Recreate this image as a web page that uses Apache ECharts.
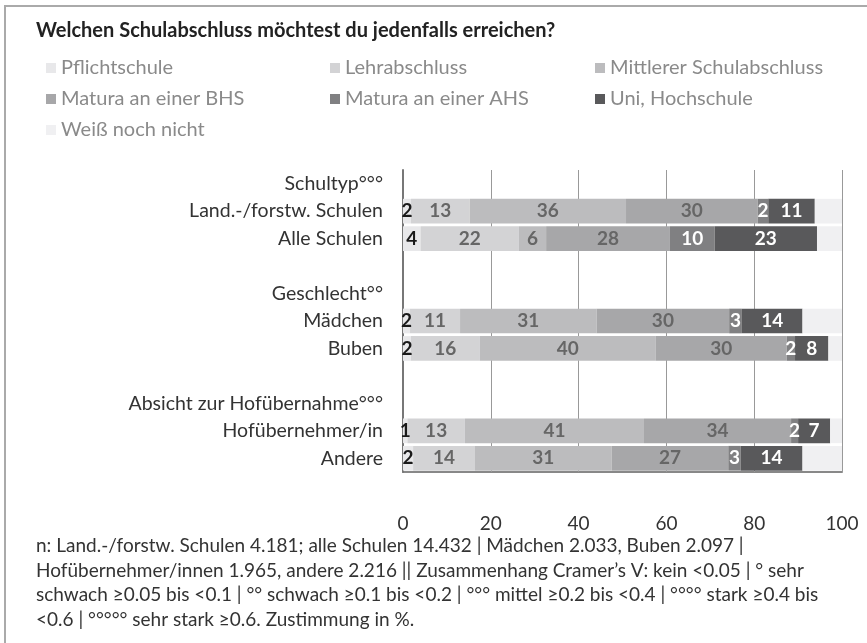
<!DOCTYPE html>
<html>
<head>
<meta charset="utf-8">
<script src="https://cdn.jsdelivr.net/npm/echarts@6/dist/echarts.min.js"></script>
<style>
  html, body { margin: 0; padding: 0; background: #fff; }
  #chart { width: 867px; height: 643px; }
</style>
</head>
<body>
<div id="chart"></div>
<script>
const categories = [
  "Schultyp°°°", "Land.-/forstw. Schulen", "Alle Schulen", " ",
  "Geschlecht°°", "Mädchen", "Buben", "  ",
  "Absicht zur Hofübernahme°°°", "Hofübernehmer/in", "Andere"
];
// header / spacer rows carry no bars
const pflichtschule = ["-", 1.8, 4.0, "-", "-", 1.6, 1.8, "-", "-", 1.0, 2.3];
const lehrabschluss = ["-", 13.4, 22.4, "-", "-", 11.4, 15.7, "-", "-", 13.1, 14.1];
const mittlerer = ["-", 35.6, 6.2, "-", "-", 31.1, 40.1, "-", "-", 40.8, 31.1];
const maturaBHS = ["-", 30.0, 28.2, "-", "-", 30.2, 29.8, "-", "-", 33.5, 26.6];
const maturaAHS = ["-", 2.4, 10.2, "-", "-", 2.9, 1.9, "-", "-", 1.6, 2.8];
const uni = ["-", 10.6, 23.3, "-", "-", 13.8, 7.6, "-", "-", 7.3, 14.1];
const weissNicht = ["-", 6.2, 5.7, "-", "-", 9.0, 3.1, "-", "-", 2.7, 9.0];
const xTicks = [0, 20, 40, 60, 80, 100];

const footnote = [
  "n: Land.-/forstw. Schulen 4.181; alle Schulen 14.432 | Mädchen 2.033, Buben 2.097 |",
  "Hofübernehmer/innen 1.965, andere 2.216 || Zusammenhang Cramer’s V: kein <0.05 | ° sehr",
  "schwach ≥0.05 bis <0.1 | °° schwach ≥0.1 bis <0.2 | °°° mittel ≥0.2 bis <0.4 | °°°° stark ≥0.4 bis",
  "<0.6 | °°°°° sehr stark ≥0.6. Zustimmung in %."
];

const FONT = "Lato";

function seg(name, data, color, labelColor, showLabel) {
  return {
    name, type: "bar", stack: "total", data, z: 3,
    barCategoryGap: "10%",
    itemStyle: { color },
    label: {
      show: showLabel,
      position: "inside",
      color: labelColor,
      fontFamily: FONT,
      fontWeight: "bold",
      fontSize: 19,
      formatter: (p) => Math.round(p.value)
    },
    emphasis: { disabled: true }
  };
}

const chart = echarts.init(document.getElementById("chart"));
const legendText = { color: "#8a8a8a", fontFamily: FONT, fontSize: 20, lineHeight: 20 };
const legendBase = {
  orient: "vertical", itemWidth: 10, itemHeight: 10, itemGap: 11,
  icon: "rect", textStyle: legendText, selectedMode: false, padding: 0
};

chart.setOption({
  animation: false,
  title: {
    text: "Welchen Schulabschluss möchtest du jedenfalls erreichen?",
    left: 36, top: 21, padding: 0,
    textStyle: { fontFamily: FONT, fontWeight: "bold", fontSize: 20, color: "#222" }
  },
  legend: [
    Object.assign({}, legendBase, { left: 46, top: 58, data: ["Pflichtschule", "Matura an einer BHS", "Weiß noch nicht"] }),
    Object.assign({}, legendBase, { left: 330, top: 58, data: ["Lehrabschluss", "Matura an einer AHS"] }),
    Object.assign({}, legendBase, { left: 595, top: 58, data: ["Mittlerer Schulabschluss", "Uni, Hochschule"] })
  ],
  grid: { left: 403, top: 170, width: 439, height: 302, containLabel: false },
  xAxis: {
    type: "value",
    min: xTicks[0], max: xTicks[xTicks.length - 1], interval: xTicks[1] - xTicks[0],
    axisLine: { show: true, lineStyle: { color: "#888", width: 2 } },
    axisTick: { show: false },
    axisLabel: { margin: 42, color: "#333", fontFamily: FONT, fontSize: 19 },
    splitLine: { show: true, lineStyle: { color: "#999", width: 1 } }
  },
  yAxis: {
    type: "category", data: categories, inverse: true, z: 2,
    axisLine: { show: true, lineStyle: { color: "#777", width: 2 } },
    axisTick: { show: false },
    axisLabel: { margin: 20, color: "#333", fontFamily: FONT, fontSize: 19.5 }
  },
  series: [
    {
      // vertical gridlines at the tick values, kept under the bars
      type: "line", data: [], z: 1, silent: true,
      markLine: {
        z: 1, symbol: "none", silent: true, label: { show: false },
        lineStyle: { color: "#999", width: 1, type: "solid" },
        data: xTicks.slice(1).map((v) => ({ xAxis: v }))
      }
    },
    seg("Pflichtschule", pflichtschule, "#e8e8ea", "#1a1a1a", true),
    seg("Lehrabschluss", lehrabschluss, "#d3d3d5", "#666", true),
    seg("Mittlerer Schulabschluss", mittlerer, "#bcbcbe", "#666", true),
    seg("Matura an einer BHS", maturaBHS, "#a7a7a9", "#666", true),
    seg("Matura an einer AHS", maturaAHS, "#808082", "#fff", true),
    seg("Uni, Hochschule", uni, "#59595b", "#fff", true),
    seg("Weiß noch nicht", weissNicht, "#f0f0f2", "#999", false)
  ],
  graphic: [
    {
      type: "polyline", silent: true,
      shape: { points: [[5, 643], [5, 6], [867, 6]] },
      style: { stroke: "#aaa", lineWidth: 2, fill: null }
    },
    {
      type: "text", left: 36, top: 534, silent: true,
      style: {
        text: footnote.join("\n"),
        fontFamily: FONT, fontSize: 19, lineHeight: 24.5, fill: "#333"
      }
    }
  ]
});
</script>
</body>
</html>
